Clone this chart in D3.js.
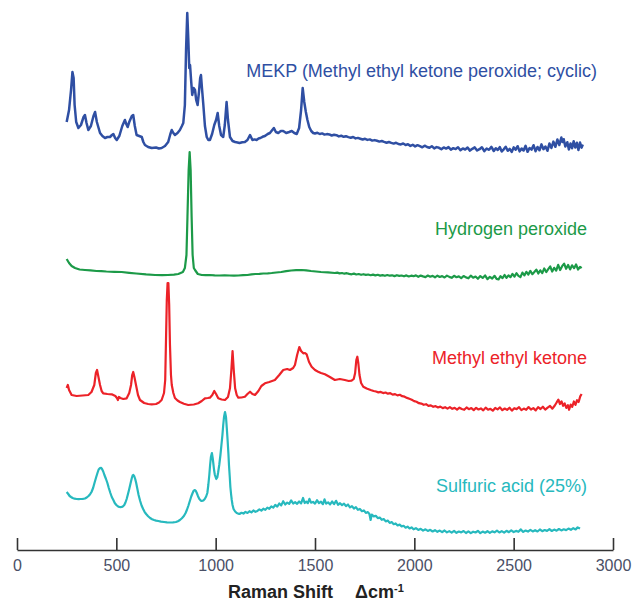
<!DOCTYPE html>
<html>
<head>
<meta charset="utf-8">
<script src="https://cdn.jsdelivr.net/npm/d3@7"></script>
<style>
  body { margin: 0; background: #fff; }
  .spectra__label { font-family: "Liberation Sans", Arial, sans-serif; font-size: 18px; }
  .axis text { font-family: "Liberation Sans", Arial, sans-serif; font-size: 16px; fill: #4a4f66; }
  .axis path, .axis line { stroke: #333; stroke-width: 1.6; }
  .axis__title { font-family: "Liberation Sans", Arial, sans-serif; font-size: 18px; font-weight: bold; fill: #222; }
</style>
</head>
<body>
<svg class="chart"></svg>
<script>
// Raman shift ticks (cm-1)
const shiftTicks = [0, 500, 1000, 1500, 2000, 2500, 3000]

const names = [
  'MEKP (Methyl ethyl ketone peroxide; cyclic)',
  'Hydrogen peroxide',
  'Methyl ethyl ketone',
  'Sulfuric acid (25%)'
]
const colors = ['#2f4fa3', '#1c9a48', '#ec2228', '#27b9be']
// stacking offset of each trace (arbitrary intensity units)
const offsets = [400, 270, 135, 15]

// [shift, intensity]
const mekp = [[250,28],[262,40],[272,60],[279,78],[285,72],[290,45],[298,28],[309,22],[322,25],[335,33],[342,35],[350,27],[359,20],[372,24],[385,34],[393,38],[402,28],[418,17],[430,14],[443,12],[455,13],[468,13],[478,15],[485,16],[494,12],[502,10],[515,14],[530,24],[543,30],[550,26],[557,23],[565,28],[578,34],[585,35],[593,24],[602,15],[615,14],[628,13],[636,8],[644,5],[660,3],[678,2],[700,2.5],[714,1.5],[728,2],[745,4],[761,8],[772,16],[779,20],[787,17],[795,15],[808,17],[820,20],[830,24],[837,27],[845,45],[851,100],[857,137],[862,112],[867,82],[871,85],[877,68],[882,55],[889,62],[896,60],[902,50],[909,45],[916,58],[922,72],[926,75],[931,62],[938,45],[946,24],[955,13],[963,10],[971,10],[982,16],[993,25],[1002,30],[1010,37],[1018,24],[1027,15],[1038,13],[1046,25],[1055,48],[1062,30],[1072,13],[1085,9],[1098,8],[1110,7.5],[1120,7],[1134,7.8],[1147,8],[1160,10],[1173,15],[1185,10],[1196,10.6],[1206,10],[1216,11.5],[1225,12],[1236,13.2],[1248,14],[1262,16],[1273,17],[1285,20],[1293,22],[1303,18],[1315,17],[1328,19],[1340,19],[1355,17],[1370,18],[1383,19],[1396,17],[1408,16],[1420,22],[1430,40],[1438,62],[1446,48],[1454,38],[1462,30],[1471,23],[1481,19],[1491,17],
  [1500,16.5],[1512,17.2],[1524,16],[1536,16.6],[1548,15.4],[1560,15.9],[1572,15.6],[1584,14.5],[1596,15.2],[1608,14.8],[1620,13.6],[1632,14.3],[1644,13.2],[1656,13.8],[1668,12.9],[1680,12.2],[1692,13],[1704,11.6],[1716,12.1],[1728,11.3],[1740,10.5],[1752,11.2],[1764,10.1],[1776,10.6],[1788,9.4],[1800,9.9],[1812,9.2],[1824,8.4],[1836,9],[1848,8.1],[1860,7.3],[1872,8],[1884,7.1],[1896,6.4],[1908,7.2],[1920,6],[1932,5.6],[1944,6.5],[1956,5],[1968,5.7],[1980,4.1],[1992,5.2],[2004,3.6],[2016,4.8],[2028,3.9],[2040,2.7],[2052,4.3],[2064,3],[2076,2.2],[2088,3.8],[2100,1.6],[2112,2.9],[2124,2.2],[2136,0.8],[2148,2.6],[2160,1.4],[2172,2.9],[2184,0.4],[2196,1.8],[2208,0.9],[2220,2.7],[2232,-0.2],[2244,1.6],[2256,0.5],[2268,2.4],[2280,-0.6],[2292,1.2],[2304,2.6],[2316,-0.5],[2328,0.8],[2340,2.8],[2352,-1.2],[2364,1.5],[2376,0.2],[2388,3.1],[2400,-1],[2410,1.8],[2420,0],[2430,2.9],[2440,-1.5],[2450,0.7],[2460,3.3],[2470,-0.8],[2480,1.2],[2490,-1.9],[2500,2.6],[2510,0.3],[2520,3.8],[2530,-1.4],[2540,1.5],[2550,-0.5],[2560,4.2],[2570,-1.8],[2580,2],[2590,0.4],[2600,4.8],[2610,-1.2],[2620,3],[2630,-0.3],[2640,5.6],[2650,0.8],[2660,3.5],[2670,-0.8],[2680,6.5],[2690,2],[2700,8.4],[2710,3.2],[2720,10.5],[2730,5],[2740,12.5],[2746,8],[2752,10.8],[2760,3.5],[2770,7.8],[2778,0.5],[2786,6.5],[2794,1.8],[2802,8.8],[2810,2.5],[2818,7.2],[2826,0],[2834,7.5],[2842,2.4],[2848,5.5]]

const h2o2 = [[250,21],[262,17],[275,14],[292,12],[315,10.5],[342,10],[370,9.6],[400,9],[425,8.8],[450,8.5],[490,8.2],[527,8],[565,7.2],[600,6.5],[650,5.6],[695,5],[730,4.8],[760,5],[790,5.4],[812,6],[835,8],[845,12],[853,25],[858,63],[864,110],[869,128],[874,110],[879,63],[884,25],[890,12],[896,10],[910,6],[930,5],[950,4.8],[970,5],[995,4.6],[1020,4.5],[1045,4.7],[1070,4.5],[1092,4.4],[1114,4.5],[1138,4.8],[1160,5],[1180,5.6],[1200,6],[1220,6.2],[1240,6.5],[1262,6.7],[1282,7],[1305,7.5],[1330,8],[1355,8.8],[1380,9.5],[1405,9.8],[1433,10],[1456,9.6],[1480,9],[1505,8.5],[1530,8],[1565,7.6],
  [1600,7],[1612,7.4],[1624,6.6],[1636,7],[1648,6.3],[1660,6.8],[1672,6.1],[1684,5.7],[1696,6.4],[1708,5.5],[1720,6],[1732,5.2],[1744,5.8],[1756,5.1],[1768,5.5],[1780,4.8],[1792,5.4],[1804,4.6],[1816,5.2],[1828,4.4],[1840,4.9],[1852,4.2],[1864,5],[1876,4.3],[1888,4.7],[1900,3.9],[1912,4.8],[1924,4.1],[1936,4.5],[1948,3.7],[1960,4.6],[1972,3.5],[1984,4.3],[1996,3.8],[2008,4.6],[2020,3.2],[2032,4.4],[2044,3.6],[2056,2.9],[2068,4.5],[2080,3.3],[2092,4.1],[2104,2.7],[2116,4.3],[2128,3],[2140,3.9],[2152,2.5],[2164,4.4],[2176,3.1],[2188,2.2],[2200,4.2],[2212,2.8],[2224,3.6],[2236,1.9],[2248,4],[2260,2.6],[2272,1.7],[2284,4.3],[2296,2.3],[2308,3.5],[2320,1.2],[2332,3.9],[2344,2.1],[2356,4.6],[2368,0.8],[2380,3.2],[2392,1.5],[2404,4.2],[2414,1.1],[2424,0.6],[2434,3.8],[2444,1.9],[2454,5],[2464,2.2],[2474,4.6],[2484,2.8],[2494,6.1],[2504,3.4],[2514,6.8],[2524,4.2],[2534,2.9],[2544,7.4],[2554,4.6],[2564,8.2],[2574,5.5],[2584,9.1],[2594,5.8],[2604,8],[2614,10.4],[2624,6.5],[2634,9.7],[2644,6.8],[2654,11.6],[2664,7.9],[2674,10.8],[2684,13.5],[2694,8.4],[2704,12.2],[2714,9.3],[2724,15.2],[2734,10],[2744,13.8],[2754,16.4],[2764,11.2],[2774,15],[2784,10.6],[2794,14.7],[2804,11.8],[2814,15.6],[2824,10.5],[2834,13.2],[2842,11.8]]

const mek = [[250,27],[256,30],[262,25],[275,20],[300,19],[330,19.5],[359,20],[375,23],[389,30],[397,42],[403,45],[410,38],[418,30],[426,24],[434,21.7],[455,21],[477,20.7],[495,19],[503,17],[508,15],[513,18],[520,17],[535,16],[552,16.7],[565,22],[574,30],[580,40],[585,43],[591,38],[599,30],[609,20],[619,15],[640,12],[660,11],[678,10.7],[700,11],[715,12.5],[728,15],[740,22],[746,35],[750,75],[754,115],[758,132],[762,132],[766,110],[770,70],[775,40],[779,30],[787,22],[795,17],[808,14.5],[820,13],[840,11.2],[862,10],[890,10.5],[912,11.7],[930,14],[946,16.7],[960,17],[971,17.3],[983,20],[993,24],[1002,21],[1013,16.7],[1030,15.5],[1047,15],[1062,18],[1072,26.7],[1079,45],[1085,64],[1091,45],[1098,26.7],[1106,20],[1114,17.3],[1130,17.5],[1147,18.3],[1160,21],[1173,23.3],[1185,21],[1198,20],[1215,24],[1230,29],[1248,31.7],[1270,33],[1298,35],[1320,40],[1340,45],[1360,46],[1374,45],[1390,47],[1399,50],[1410,60],[1421,68],[1430,64],[1441,61.7],[1450,62],[1458,60.7],[1470,53],[1483,48.3],[1500,45],[1516,43.3],[1530,42],[1550,40.7],[1575,38],[1600,35],[1625,36],[1650,35],[1670,34],[1684,34.3],[1695,36],[1702,42],[1708,55],[1713,58.3],[1718,52],[1724,40],[1732,32],[1743,28.3],[1760,26.5],[1780,25],
  [1795,24],[1807,23.5],[1819,22.6],[1831,23.1],[1843,21.9],[1855,22.5],[1867,21.3],[1879,21.8],[1891,20.4],[1903,20.9],[1915,19.6],[1927,20.2],[1939,18.8],[1951,18.3],[1963,17.1],[1975,16.2],[1987,15.3],[1999,13.9],[2011,13.2],[2023,11.8],[2035,11.4],[2047,10.2],[2059,10.8],[2071,9.1],[2083,9.6],[2095,8.2],[2107,8.9],[2119,7.5],[2131,8.4],[2143,6.9],[2155,7.8],[2167,6.4],[2179,7.9],[2191,6.2],[2203,7.1],[2215,5.4],[2227,7.3],[2239,6],[2251,5.2],[2263,7.5],[2275,5.8],[2287,6.9],[2299,4.9],[2311,7.2],[2323,5.5],[2335,6.6],[2347,4.6],[2359,7.4],[2371,5.3],[2383,6.2],[2395,4.3],[2407,7],[2419,5.6],[2431,7.6],[2443,4.8],[2455,6.5],[2467,5.1],[2479,7.3],[2491,4.4],[2503,6.8],[2515,5.9],[2527,7.8],[2539,4.9],[2551,6.4],[2563,5.2],[2575,7.9],[2587,5.5],[2599,6.9],[2611,4.6],[2623,7.8],[2635,6],[2647,8.3],[2659,5.4],[2671,7.4],[2683,9],[2695,6.3],[2707,9.5],[2717,12.8],[2725,15.3],[2733,11],[2741,13.6],[2749,9.2],[2757,11.5],[2765,7.1],[2773,9.8],[2779,5.2],[2787,10.4],[2795,8.2],[2803,13.5],[2811,10.1],[2819,14.8],[2827,13],[2835,18.6],[2842,21]]

const h2so4 = [[250,43],[258,41],[265,39],[272,38],[280,37],[290,36.3],[300,36],[310,35.8],[320,36],[331,36.1],[342,36.5],[351,37.5],[360,39],[368,40.8],[375,43],[383,47],[390,52],[398,57.5],[405,62],[411,65.5],[418,67],[423,67.2],[428,66],[434,63.5],[440,60],[448,56],[455,52],[462,47],[470,42],[477,38],[485,35],[492,32],[500,30],[507,28.8],[515,28],[521,27.8],[527,28],[534,28.8],[540,30],[546,32.5],[552,36],[558,40.5],[565,46],[572,52],[578,57],[582,59.5],[586,60],[590,58.8],[595,56],[600,52],[605,47],[612,40],[620,34],[627,29.5],[635,26],[642,23.2],[650,21],[660,18.8],[670,17],[680,15.8],[690,15],[700,14.4],[711,14],[725,13.4],[740,13],[755,12.6],[770,12.5],[785,12.6],[800,13],[810,13.8],[820,15],[830,16.8],[840,19],[848,21.8],[855,25],[863,29.5],[870,34],[877,38.5],[884,42],[889,44.2],[894,45],[899,44.4],[905,42],[911,38.8],[918,36],[924,34.6],[930,34],[938,34.5],[945,36],[952,38.5],[958,42],[963,50],[968,60],[972,70],[976,78],[981,82],[985,77],[988,72],[992,65],[996,60],[1003,56],[1008,57.5],[1012,62],[1018,70],[1024,80],[1029,90],[1034,100],[1038,110],[1042,118],[1047,123],[1052,118],[1056,107],[1060,95],[1064,82],[1067,70],[1071,58],[1074,48],[1078,40],[1081,35],[1085,30],[1090,26],[1098,23.5],[1106,22],[1113,21.4],
  [1120,21],[1130,22.2],[1140,21.4],[1150,23.1],[1160,22],[1170,23.8],[1180,22.6],[1190,24.5],[1200,23.2],[1210,24.1],[1220,25.6],[1230,24.4],[1240,26.3],[1250,25.1],[1260,27.4],[1270,26.2],[1280,28.6],[1290,27.3],[1300,30.1],[1310,28.4],[1320,31.5],[1330,29.6],[1340,33.8],[1350,30.5],[1360,32.4],[1370,31.1],[1380,34.6],[1390,31.5],[1400,32.8],[1410,31.2],[1420,33.5],[1430,31.6],[1440,37],[1448,32],[1456,33.4],[1464,31.8],[1472,36.2],[1480,32.3],[1490,33.1],[1500,31.4],[1510,34.8],[1520,31.9],[1530,33.3],[1540,30.8],[1548,35.6],[1556,31.4],[1566,32.7],[1576,30.6],[1586,33.5],[1596,30.9],[1606,34.2],[1616,30.2],[1626,31.8],[1636,29.9],[1646,31.4],[1656,28.8],[1666,30.5],[1676,27.6],[1686,28.9],[1696,26.5],[1706,27.8],[1716,25.2],[1726,26.1],[1736,23.8],[1746,24.6],[1756,22.1],[1766,22.9],[1774,21],[1780,15],[1786,20.4],[1796,18.6],[1806,19.2],[1816,16.9],[1826,17.4],[1836,15.2],[1846,16],[1856,13.6],[1866,14.5],[1876,12.1],[1886,12.9],[1896,10.8],[1906,11.6],[1916,9.5],[1926,10.4],[1936,8.6],[1946,9.2],[1956,7.3],[1966,8.4],[1976,6.5],[1986,7.6],[1996,5.7],[2008,6.8],[2020,5.1],[2032,6.2],[2044,4.4],[2056,5.7],[2068,4.1],[2080,5.2],[2092,3.5],[2104,4.8],[2116,3.2],[2128,4.4],[2140,2.8],[2152,4.5],[2164,2.6],[2176,3.9],[2188,2.4],[2200,4.1],[2212,2.2],[2224,3.5],[2236,2.6],[2248,4],[2260,2],[2272,3.6],[2284,1.9],[2296,3.3],[2308,2.5],[2320,4.2],[2332,1.8],[2344,3.4],[2356,2.3],[2368,3.8],[2380,2.1],[2392,3.6],[2404,2.7],[2416,4.4],[2428,2.5],[2440,3.9],[2452,2.4],[2464,4.2],[2476,2.8],[2488,4.6],[2500,2.9],[2512,4.1],[2524,3.2],[2536,5.6],[2548,3.1],[2560,4.5],[2572,3.4],[2584,5.2],[2596,3.6],[2608,4.8],[2620,3.5],[2632,5.5],[2644,3.8],[2656,5],[2668,4.1],[2680,5.8],[2692,4],[2704,5.4],[2716,4.3],[2728,6],[2740,4.6],[2752,5.7],[2764,4.9],[2776,6.4],[2788,5.2],[2800,6.8],[2812,5.6],[2822,7.6],[2834,6.5]]

const spectra = [mekp, h2o2, mek, h2so4]

const width = 636, height = 606
const svg = d3.select('.chart')
  .attr('width', width)
  .attr('height', height)

const x = d3.scaleLinear().domain([0, 3000]).range([17, 613])
const y = d3.scaleLinear().domain([0, 540]).range([550, 10])

const line = d3.line()
  .x(d => x(d[0]))

svg.append('g')
  .attr('class', 'spectra')
  .selectAll('path')
  .data(spectra)
  .enter().append('path')
  .attr('fill', 'none')
  .attr('stroke', (d, i) => colors[i])
  .attr('stroke-width', (d, i) => i === 0 ? 2.5 : 2.2)
  .attr('stroke-linejoin', 'round')
  .attr('d', (d, i) => line.y(p => y(p[1] + offsets[i]))(d))

// labels sit at the right end, just above each trace
const labelPos = [[597, 77], [587, 235], [587, 364], [587, 492]]
svg.append('g')
  .selectAll('text')
  .data(names)
  .enter().append('text')
  .attr('class', 'spectra__label')
  .attr('x', (d, i) => labelPos[i][0])
  .attr('y', (d, i) => labelPos[i][1])
  .attr('text-anchor', 'end')
  .attr('fill', (d, i) => colors[i])
  .text(d => d)

const axis = svg.append('g')
  .attr('class', 'axis')
  .attr('transform', `translate(0,${y(0)})`)
  .call(d3.axisBottom(x)
    .tickValues(shiftTicks)
    .tickFormat(d3.format('d'))
    .tickSizeInner(-12)
    .tickSizeOuter(0)
    .tickPadding(10))

axis.selectAll('text').attr('font-family', null).attr('font-size', null)

const title = svg.append('text')
  .attr('class', 'axis__title')
  .attr('x', 228)
  .attr('y', 598)
title.append('tspan').text('Raman Shift')
title.append('tspan').attr('dx', 22).text('\u0394cm')
title.append('tspan').attr('dy', -6).attr('font-size', 11).text('-1')
</script>
</body>
</html>
